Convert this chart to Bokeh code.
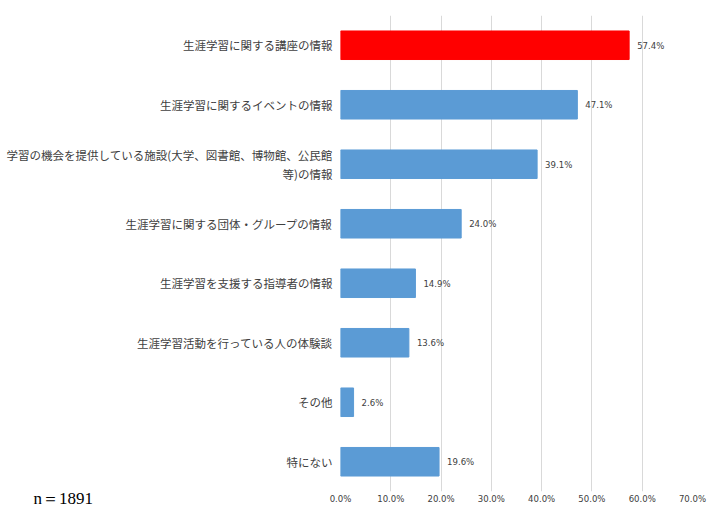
from bokeh.plotting import figure
from bokeh.models import ColumnDataSource, FactorRange, FixedTicker, Title
from bokeh.core.properties import value
from bokeh.embed import file_html
from bokeh.resources import INLINE

categories = [
    "生涯学習に関する講座の情報",
    "生涯学習に関するイベントの情報",
    "学習の機会を提供している施設(大学、図書館、博物館、公民館\n等)の情報",
    "生涯学習に関する団体・グループの情報",
    "生涯学習を支援する指導者の情報",
    "生涯学習活動を行っている人の体験談",
    "その他",
    "特にない",
]
values = [57.4, 47.1, 39.1, 24.0, 14.9, 13.6, 2.6, 19.6]
colors = ["#FF0000"] + ["#5B9BD5"] * 7
value_labels = [f"{v:.1f}%" for v in values]
tick_values = [0, 10, 20, 30, 40, 50, 60, 70]
tick_labels = [f"{t:.1f}%" for t in tick_values]
sample_note = "n＝1891"

src = ColumnDataSource(dict(cat=categories, val=values, color=colors, lab=value_labels))

p = figure(width=710, height=528, output_backend="svg", toolbar_location=None,
           x_range=(0, 70), y_range=FactorRange(factors=categories[::-1], range_padding=0),
           min_border_left=340, min_border_right=18, min_border_top=15, min_border_bottom=37)
p.outline_line_color = None
p.hbar(y="cat", right="val", left=0, height=0.48, color="color", source=src)

p.text(x="val", y="cat", text="lab", x_offset=8, text_align="left", text_baseline="middle",
       text_font=value("DejaVu Sans Condensed"), text_font_size="9.5px", text_color="#404040", source=src)

p.yaxis.axis_line_color = None
p.yaxis.major_tick_line_color = None
p.yaxis.minor_tick_line_color = None
p.yaxis.major_tick_out = 0
p.yaxis.major_label_text_font = "Noto Sans CJK JP"
p.yaxis.major_label_text_font_size = "11.5px"
p.yaxis.major_label_text_color = "#404040"
p.yaxis.major_label_standoff = 8
p.ygrid.grid_line_color = None
p.xgrid.grid_line_color = "#d9d9d9"
p.xaxis.ticker = FixedTicker(ticks=tick_values)
p.xaxis.major_label_overrides = dict(zip(tick_values, tick_labels))
p.xaxis.axis_line_color = None
p.xaxis.major_tick_line_color = None
p.xaxis.minor_tick_line_color = None
p.xaxis.major_tick_out = 0
p.xaxis.major_tick_in = 0
p.xaxis.minor_tick_out = 0
p.xaxis.major_label_text_font = "DejaVu Sans Condensed"
p.xaxis.major_label_text_font_size = "9.5px"
p.xaxis.major_label_text_color = "#404040"
p.xaxis.major_label_standoff = 1

note = Title(text=sample_note, align="left", vertical_align="top", offset=-307, standoff=-36,
             text_font="Liberation Serif", text_font_size="17px", text_font_style="normal",
             text_color="#000000")
p.add_layout(note, "below")

open("out.html", "w").write(file_html(p, INLINE))
